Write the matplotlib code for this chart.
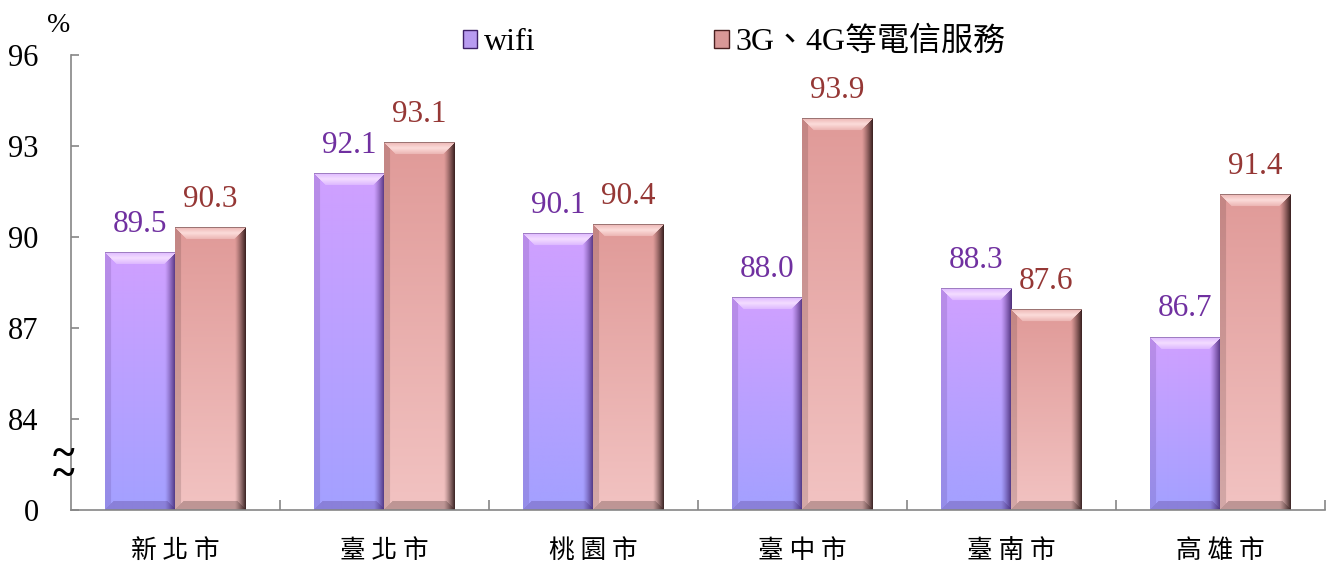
import numpy as np
import matplotlib.pyplot as plt
from matplotlib.patches import Patch

# Data
cities = ['新北市', '臺北市', '桃園市', '臺中市', '臺南市', '高雄市']
wifi = [89.5, 92.1, 90.1, 88.0, 88.3, 86.7]
mobile = [90.3, 93.1, 90.4, 93.9, 87.6, 91.4]
series_names = ['wifi', '3G、4G等電信服務']
yticks = [81, 84, 87, 90, 93, 96]
ytick_labels = ['0', '84', '87', '90', '93', '96']
base = 81

serif = ['Liberation Serif', 'Noto Sans CJK TC']
cjk = ['Noto Sans CJK TC', 'DejaVu Sans']

fig = plt.figure(figsize=(13.28, 5.62), dpi=100)
ax = fig.add_axes([70.5 / 1328, 1 - 510 / 562, 1254 / 1328, 455 / 562])
ax.set_xlim(-0.5, len(cities) - 0.5)
ax.set_ylim(base, 96)

x = np.arange(len(cities))
w = 0.335


def c(h):
    return np.array([int(h[i:i + 2], 16) / 255 for i in (1, 3, 5)])


def bevel_img(wp, hp, top, bot, hi, dark, b=12.0):
    wp, hp = max(int(round(wp)), 2), max(int(round(hp)), 2)
    u = np.arange(wp)[None, :] + 0.5
    v = np.arange(hp)[:, None] + 0.5
    t = (v / hp)[..., None]
    img = np.broadcast_to(top * (1 - t) + bot * t, (hp, wp, 3)).copy()
    dl, dr, dt, db = u + 0 * v, wp - u + 0 * v, v + 0 * u, hp - v + 0 * u
    # right edge darkening
    mr = (dr < 11) & (dr < dt)
    k = np.clip(1 - dr / 11, 0, 1) ** 1.2 * 0.9
    img[mr] = img[mr] * (1 - k[mr, None]) + dark * k[mr, None]
    # left edge slight shade
    ml = (dl < 6) & (dl < dt) & (dl < db)
    img[ml] = img[ml] * 0.85 + dark * 0.15
    # bottom bevel
    mb = (db < 9) & (db <= dl) & (db <= dr)
    img[mb] = img[mb] * 0.75 + dark * 0.25
    # top bevel highlight
    mt = (dt < b) & (dt <= dl) & (dt <= dr)
    s = (1 - np.abs(dt / b - 0.5) * 1.2).clip(0.4, 0.95)
    img[mt] = img[mt] * (1 - s[mt, None]) + hi * s[mt, None]
    # thin top edge
    img[0, :] = img[0, :] * 0.6 + dark * 0.4
    return img


styles = [
    dict(top=c('#d0a0ff'), bot=c('#a3a0ff'), hi=c('#f3dcff'), dark=c('#3e2068'),
         text='#7030a0'),
    dict(top=c('#e09a98'), bot=c('#f2c3c2'), hi=c('#fcdcda'), dark=c('#241010'),
         text='#953735'),
]

for off, vals, st, lab in [(-w / 2, wifi, styles[0], series_names[0]),
                           (w / 2, mobile, styles[1], series_names[1])]:
    bars = ax.bar(x + off, np.array(vals) - base, w, bottom=base,
                  color='none', edgecolor='none', label=lab)
    for p, val in zip(bars.patches, vals):
        x0, x1 = p.get_x(), p.get_x() + p.get_width()
        (px0, py0), (px1, py1) = ax.transData.transform([(x0, base), (x1, val)])
        img = bevel_img(px1 - px0, py1 - py0, st['top'], st['bot'], st['hi'], st['dark'])
        ax.imshow(img, extent=[x0, x1, base, val], aspect='auto',
                  interpolation='bilinear', zorder=2)
        ax.text(p.get_x() + p.get_width() / 2, val + 0.45, f'{val:.1f}',
                ha='center', va='bottom', fontsize=22.5, color=st['text'],
                family=serif)

ax.set_xlim(-0.5, len(cities) - 0.5)
ax.set_ylim(base, 96)

# axes styling
for s in ['top', 'right']:
    ax.spines[s].set_visible(False)
for s in ['left', 'bottom']:
    ax.spines[s].set_color('#868686')
    ax.spines[s].set_linewidth(1.2)

ax.set_yticks(yticks)
ax.set_yticklabels(ytick_labels, family=serif, fontsize=22)
ax.tick_params(axis='y', direction='in', length=6, width=1.2, color='#868686', pad=23)
ax.set_xticks(x)
ax.set_xticklabels([' '.join(cn) for cn in cities], family=cjk, fontsize=18.5)
ax.tick_params(axis='x', which='major', length=0, pad=20)
ax.set_xticks(np.arange(len(cities)) + 0.5, minor=True)
ax.tick_params(axis='x', which='minor', direction='in', length=7, width=1.2,
               color='#868686')

fig.text(59 / 1328, 1 - 26 / 562, '%', ha='center', va='center',
         fontsize=20, family=serif)
fig.text(63 / 1328, 1 - 466 / 562, '~\n~', ha='center', va='center',
         fontsize=30, linespacing=0.35, family=serif, fontweight='bold')

handles = [Patch(facecolor='#b89bf0', edgecolor='#3e2068', lw=1),
           Patch(facecolor='#d99897', edgecolor='#4a2020', lw=1)]
fig.legend(handles, series_names, loc='center',
           bbox_to_anchor=(734 / 1328, 1 - 42 / 562), ncol=2, frameon=False,
           prop={'family': serif, 'size': 23}, handlelength=0.45,
           handleheight=0.5, handletextpad=0.2, columnspacing=5.6)

fig.savefig('out.png', dpi=100)
